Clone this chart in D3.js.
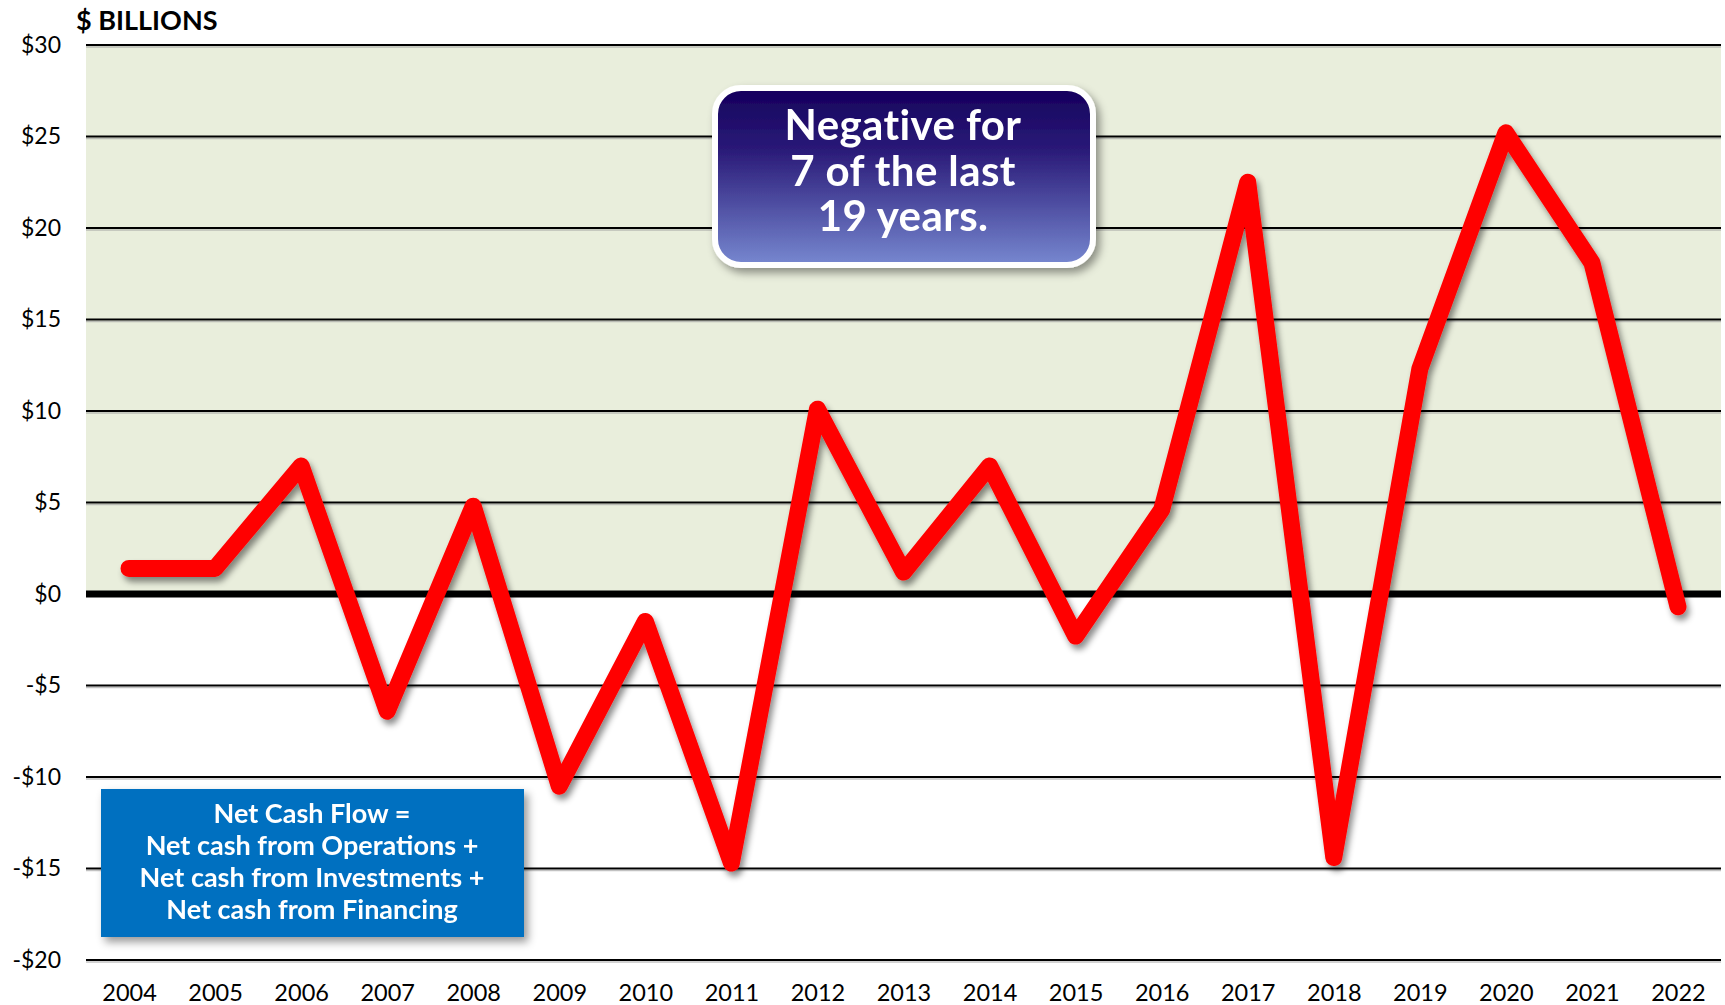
<!DOCTYPE html>
<html>
<head>
<meta charset="utf-8">
<script src="https://cdn.jsdelivr.net/npm/d3@7"></script>
<style>
  body { margin: 0; background: #fff; }
  svg { display: block; font-family: Lato, "Open Sans", sans-serif; }
</style>
</head>
<body>
<div id="chart"></div>
<script>
// data ($ billions)
var years = ["2004","2005","2006","2007","2008","2009","2010","2011","2012","2013",
             "2014","2015","2016","2017","2018","2019","2020","2021","2022"];
var netCash = [1.4, 1.4, 7.0, -6.4, 4.8, -10.5, -1.5, -14.7, 10.1, 1.2,
               7.0, -2.3, 4.6, 22.5, -14.4, 12.3, 25.2, 18.1, -0.7];
var yTicks = [-20, -15, -10, -5, 0, 5, 10, 15, 20, 25, 30];
var calloutLines = ["Negative for", "7 of the last", "19 years."];
var formulaLines = ["Net Cash Flow =", "Net cash from Operations +",
                    "Net cash from Investments +", "Net cash from Financing"];

var width = 1725, height = 1005;
var margin = {top: 45, right: 4, bottom: 45, left: 86};

var svg = d3.select("#chart").append("svg")
    .attr("width", width)
    .attr("height", height);

var defs = svg.append("defs");

var lineShadow = defs.append("filter").attr("id", "lineShadow")
    .attr("x", "-10%").attr("y", "-10%").attr("width", "120%").attr("height", "120%");
lineShadow.append("feDropShadow")
    .attr("dx", 3).attr("dy", 5).attr("stdDeviation", 3)
    .attr("flood-color", "#000").attr("flood-opacity", 0.45);

var boxShadow = defs.append("filter").attr("id", "boxShadow")
    .attr("x", "-10%").attr("y", "-10%").attr("width", "125%").attr("height", "130%");
boxShadow.append("feDropShadow")
    .attr("dx", 4).attr("dy", 5).attr("stdDeviation", 4)
    .attr("flood-color", "#000").attr("flood-opacity", 0.4);

var grad = defs.append("linearGradient").attr("id", "calloutGrad")
    .attr("x1", 0).attr("y1", 0).attr("x2", 0).attr("y2", 1);
grad.append("stop").attr("offset", "0%").attr("stop-color", "#15005c");
grad.append("stop").attr("offset", "35%").attr("stop-color", "#2a1a78");
grad.append("stop").attr("offset", "100%").attr("stop-color", "#7788d0");

var x = d3.scalePoint()
    .domain(years)
    .range([margin.left, width - margin.right])
    .padding(0.5);

var y = d3.scaleLinear()
    .domain([-20, 30])
    .range([height - margin.bottom, margin.top]);

// green area above zero
svg.append("rect")
    .attr("x", margin.left)
    .attr("y", y(30))
    .attr("width", width - margin.right - margin.left)
    .attr("height", y(0) - y(30))
    .attr("fill", "#e9eedc");

// gridlines, with a soft grey line under each as shadow
var gridVals = yTicks.filter(function(d) { return d !== 0; });
var grid = svg.append("g");
grid.selectAll("line.shadow")
    .data(gridVals)
    .enter()
    .append("line")
    .attr("class", "shadow")
    .attr("x1", margin.left)
    .attr("x2", width - margin.right)
    .attr("y1", function(d) { return y(d) + 2; })
    .attr("y2", function(d) { return y(d) + 2; })
    .attr("stroke", "#9a9a9a")
    .attr("stroke-opacity", 0.6)
    .attr("stroke-width", 1.5);
grid.selectAll("line.grid")
    .data(gridVals)
    .enter()
    .append("line")
    .attr("class", "grid")
    .attr("x1", margin.left)
    .attr("x2", width - margin.right)
    .attr("y1", function(d) { return y(d); })
    .attr("y2", function(d) { return y(d); })
    .attr("stroke", "#000")
    .attr("stroke-width", 2);

// zero line
svg.append("line")
    .attr("x1", margin.left)
    .attr("x2", width - margin.right)
    .attr("y1", y(0))
    .attr("y2", y(0))
    .attr("stroke", "#000")
    .attr("stroke-width", 7);

// y axis labels
var yAxis = svg.append("g")
    .attr("transform", "translate(" + margin.left + ",0)")
    .call(d3.axisLeft(y)
        .tickValues(yTicks)
        .tickSize(0)
        .tickPadding(25)
        .tickFormat(function(d) { return (d < 0 ? "-$" : "$") + Math.abs(d); }));
yAxis.select(".domain").remove();
yAxis.selectAll("text")
    .attr("font-family", "Lato, sans-serif")
    .attr("font-size", 23)
    .attr("fill", "#000");

// x axis labels
var xAxis = svg.append("g")
    .attr("transform", "translate(0," + (height - margin.bottom) + ")")
    .call(d3.axisBottom(x).tickSize(0).tickPadding(24));
xAxis.select(".domain").remove();
xAxis.selectAll("text")
    .attr("font-family", "Lato, sans-serif")
    .attr("font-size", 23.5)
    .attr("fill", "#000");

// unit label
svg.append("text")
    .attr("x", 76)
    .attr("y", 30)
    .attr("font-size", 27)
    .attr("font-weight", "bold")
    .attr("fill", "#000")
    .text("$ BILLIONS");

// the red line
var line = d3.line()
    .x(function(d, i) { return x(years[i]); })
    .y(function(d) { return y(d); });

svg.append("path")
    .datum(netCash)
    .attr("d", line)
    .attr("fill", "none")
    .attr("stroke", "#ff0000")
    .attr("stroke-width", 17)
    .attr("stroke-linejoin", "round")
    .attr("stroke-linecap", "round")
    .attr("filter", "url(#lineShadow)");

// callout box, top
var cg = svg.append("g").attr("filter", "url(#boxShadow)");
cg.append("rect")
    .attr("x", 715).attr("y", 88)
    .attr("width", 378).attr("height", 177)
    .attr("rx", 26).attr("ry", 26)
    .attr("fill", "url(#calloutGrad)")
    .attr("stroke", "#fff")
    .attr("stroke-width", 6);
cg.selectAll("text")
    .data(calloutLines)
    .enter()
    .append("text")
    .attr("x", 903)
    .attr("y", function(d, i) { return 140 + i * 45.5; })
    .attr("text-anchor", "middle")
    .attr("font-size", 42)
    .attr("letter-spacing", 0.4)
    .attr("font-weight", "bold")
    .attr("fill", "#fff")
    .text(function(d) { return d; });

// formula box, bottom left
var fg = svg.append("g").attr("filter", "url(#boxShadow)");
fg.append("rect")
    .attr("x", 101).attr("y", 789)
    .attr("width", 423).attr("height", 148)
    .attr("fill", "#0070c0");
fg.selectAll("text")
    .data(formulaLines)
    .enter()
    .append("text")
    .attr("x", 312)
    .attr("y", function(d, i) { return 823 + i * 32; })
    .attr("text-anchor", "middle")
    .attr("font-size", 27)
    .attr("font-weight", "bold")
    .attr("fill", "#fff")
    .text(function(d) { return d; });
</script>
</body>
</html>
